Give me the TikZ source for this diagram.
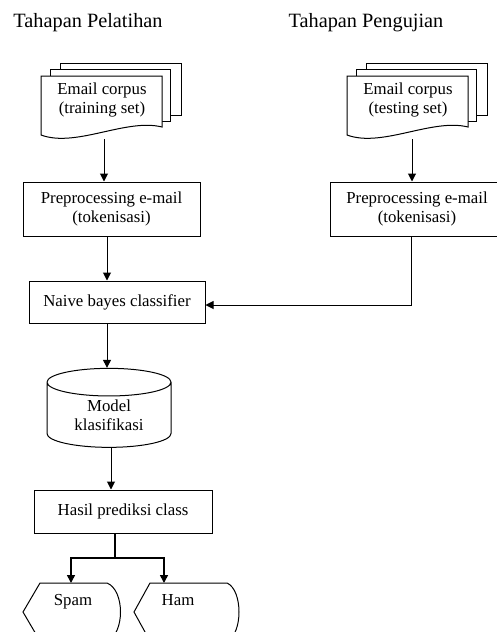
\documentclass[tikz,border=0pt]{standalone}
\usepackage{fontspec}
\setmainfont{Liberation Serif}
\usetikzlibrary{arrows.meta,positioning,shapes.geometric}

\tikzset{arr/.style={-{Triangle[length=8pt,width=8pt]},line width=1pt}}

\begin{document}
\begin{tikzpicture}[x=1pt,y=-1pt,font=\fontsize{16.8}{19.5}\selectfont]
		\useasboundingbox (0,0) rectangle (496,632);

		\node (tpel) at (88,23) {\fontsize{20.3}{22}\selectfont Tahapan Pelatihan};
		\node (tpen) at (366,23) {\fontsize{20.3}{22}\selectfont Tahapan Pengujian};

		% tumpukan email corpus
		\foreach \x in {41,347} {
			\draw[line width=1pt,fill=white] (\x+19,63) rectangle (\x+140,115);
			\draw[line width=1pt,fill=white] (\x+9,69) rectangle (\x+129,121);
			\draw[line width=1pt,fill=white] (\x,76) -- (\x+121,76) -- (\x+121,127)
				.. controls (\x+85,118) and (\x+35,148) .. (\x,135) -- cycle;
		}
		\node[align=center] (docL) at (102,100) {Email corpus\\(training set)};
		\node[align=center] (docR) at (408,100) {Email corpus\\(testing set)};
		\coordinate (docLb) at (104,139);
		\coordinate (docRb) at (412,139);

		\begin{scope}[every node/.style={draw,line width=1pt,align=center,inner sep=0pt}]
			\node[minimum width=177pt,minimum height=54pt] (prepL) at (111.5,209) {Preprocessing e-mail\\(tokenisasi)};
			\node[minimum width=174pt,minimum height=54pt] (prepR) at (417,209) {Preprocessing e-mail\\(tokenisasi)};
			\node[minimum width=176pt,minimum height=42pt] (naive) at (117,302) {Naive bayes classifier};
			\node[cylinder,shape border rotate=90,aspect=0.4,minimum width=124pt,minimum height=79pt] (model) at (109,415) {Model\\klasifikasi};
			\node[minimum width=178pt,minimum height=43pt] (hasil) at (123,511.5) {Hasil prediksi class};
		\end{scope}

		% kelas keluaran
		\draw[line width=1pt] (40,583) -- (107,583) .. controls (125,590) and (125,634) .. (107,641)
			-- (40,641) -- (23,612) -- cycle;
		\draw[line width=1pt] (150,583) -- (227,583) .. controls (243,590) and (243,634) .. (227,641)
			-- (150,641) -- (134,612) -- cycle;
		\node (spam) at (73,602) {Spam};
		\node (ham) at (178,600) {Ham};
		\coordinate (split) at (115,558);
		\coordinate (spamTop) at (71,583);
		\coordinate (hamTop) at (164,583);

		\draw[arr] (docLb) -- (docLb |- prepL.north);
		\draw[arr] (docRb) -- (docRb |- prepR.north);
		\draw[arr] ([xshift=-4.5pt]prepL.south) -- ([xshift=-4.5pt]prepL.south |- naive.north);
		\draw[arr] ([xshift=-6pt]prepR.south) |- ([yshift=-3pt]naive.east);
		\draw[arr] ([xshift=-10pt]naive.south) -- ([xshift=-10pt]naive.south |- model.north);
		\draw[arr] ([xshift=2pt]model.south) -- ([xshift=2pt]model.south |- hasil.north);
		\draw[line width=2pt] ([xshift=-8pt]hasil.south) -- (split);
		\draw[arr,line width=1.5pt] (split) -| (spamTop);
		\draw[arr,line width=1.5pt] (split) -| (hamTop);
	\end{tikzpicture}
\end{document}
